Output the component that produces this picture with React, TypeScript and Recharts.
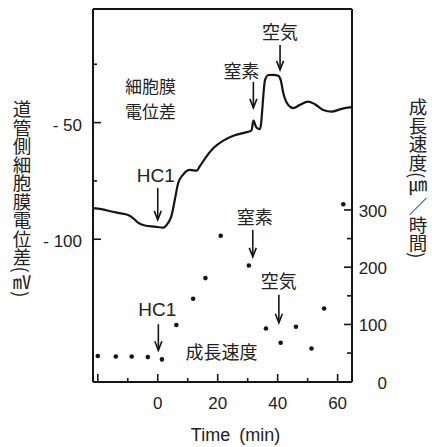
import React from 'react';
import { ComposedChart, Line, Scatter, XAxis, YAxis, ReferenceDot, ReferenceLine } from 'recharts';

// Membrane potential trace (time in min, potential in mV)
const potentialTime = [-21.6, -18.8, -15.5, -12.7, -9.9, -8.2, -6.6, -4.3, -1.0, 1.8, 3.4, 4.5, 5.7, 6.8, 8.4, 10.8, 13.0, 14.1, 15.8, 18.5, 21.9, 25.2, 29.1, 31.3, 31.9, 32.9, 34.1, 35.8, 36.9, 38.5, 40.2, 41.0, 41.9, 43.5, 45.2, 47.4, 50.2, 52.4, 55.2, 58.0, 61.3, 64.8];
const potentialMv = [-86.7, -87.1, -88.1, -88.8, -89.6, -91.0, -92.9, -94.1, -94.6, -95.0, -93.1, -90.3, -83.1, -76.0, -72.4, -70.3, -70.6, -68.6, -65.3, -61.0, -57.7, -55.6, -54.3, -53.3, -49.1, -52.1, -52.8, -31.7, -29.6, -29.5, -29.9, -31.7, -37.4, -42.4, -43.8, -42.4, -41.0, -42.1, -44.6, -45.3, -44.1, -43.4];

// Growth rate points (time in min, rate in µm/h)
const growthTime = [-20, -14, -8.7, -3.3, 1.4, 6.2, 11.8, 15.9, 21, 30.4, 36.1, 41, 46.1, 51.3, 55.5, 61.9];
const growthRate = [45, 44, 44, 43, 39, 99, 145, 181, 255, 203, 93, 68, 96, 58, 128, 310];

// Axis ticks
const xTicks = [-20, -10, 0, 10, 20, 30, 40, 50, 60];
const xTickLabels = [0, 20, 40, 60];
const leftTicks = [-100, -75, -50, -25];
const leftTickLabels = [-50, -100];
const rightTicks = [0, 50, 100, 150, 200, 250, 300];
const rightTickLabels = [0, 100, 200, 300];

// Annotations
const upperEventLabels = ['HC1', '窒素', '空気'];
const upperEventTime = [0, 31.9, 40.8];
const upperEventMv = [-91.7, -43.7, -27.4];
const lowerEventLabels = ['HC1', '窒素', '空気'];
const lowerEventTime = [0.2, 31.7, 40.4];
const lowerEventRate = [55, 218, 103];
const potentialCaption = ['細胞膜', '電位差'];
const potentialCaptionAt = { t: -2.4, mv: -39.4 };
const growthCaption = '成長速度';
const growthCaptionAt = { t: 21.3, rate: 52.8 };

// Layout (pixel offsets of annotation text relative to arrow tip)
const upperLayout = [
  { len: 32, textDy: -44, textDx: -2 },
  { len: 26, textDy: -38, textDx: -12 },
  { len: 25, textDy: -39, textDx: 0 },
];
const lowerLayout = [
  { len: 26, textDy: -41, textDx: -1 },
  { len: 27, textDy: -41, textDx: 2 },
  { len: 28, textDy: -43, textDx: 0 },
];

const INK = '#151515';
const LATIN = '"Liberation Sans", Arial, sans-serif';
const CJK = '"Noto Sans CJK JP", "Noto Sans CJK SC", sans-serif';

const lineData = potentialTime.map((t, i) => ({ t, mv: potentialMv[i] }));
const growthData = growthTime.map((t, i) => ({ t, rate: growthRate[i] }));

const isLatin = (s: string) => /^[A-Za-z0-9 ]+$/.test(s);

const Arrow = (props: any) => {
  const { cx, cy, label, len, textDy, textDx } = props;
  if (cx == null || cy == null) return null;
  return (
    <g>
      <line x1={cx} x2={cx} y1={cy - len} y2={cy} stroke={INK} strokeWidth={1.6} />
      <polyline points={`${cx - 3.5},${cy - 9} ${cx},${cy} ${cx + 3.5},${cy - 9}`} fill="none" stroke={INK} strokeWidth={1.6} />
      <text
        x={cx + textDx}
        y={cy + textDy}
        textAnchor="middle"
        dominantBaseline="central"
        fontFamily={isLatin(label) ? LATIN : CJK}
        fontSize={isLatin(label) ? 19 : 18}
        fill="#222"
      >
        {label}
      </text>
    </g>
  );
};

const Caption = (props: any) => {
  const { cx, cy, lines, size = 18, gap = 24 } = props;
  if (cx == null || cy == null) return null;
  const start = cy - ((lines.length - 1) * gap) / 2;
  return (
    <g>
      {lines.map((l: string, i: number) => (
        <text key={i} x={cx} y={start + i * gap} textAnchor="middle" dominantBaseline="central" fontFamily={CJK} fontSize={size} fill="#222">
          {l}
        </text>
      ))}
    </g>
  );
};

const BottomTick = (p: any) => {
  const v = p.payload.value;
  const major = v % 20 === 0;
  return (
    <g>
      <line x1={p.x} x2={p.x} y1={p.y} y2={p.y - (major ? 8 : 4)} stroke={INK} strokeWidth={1.6} />
      {xTickLabels.includes(v) && (
        <text x={p.x} y={p.y + 27} textAnchor="middle" fontFamily={LATIN} fontSize={17} fill="#222">
          {v}
        </text>
      )}
    </g>
  );
};

const LeftTick = (p: any) => {
  const v = p.payload.value;
  const major = leftTickLabels.includes(v);
  return (
    <g>
      <line x1={p.x} x2={p.x + (major ? 8 : 4)} y1={p.y} y2={p.y} stroke={INK} strokeWidth={1.6} />
      {major && (
        <text x={p.x - 11} y={p.y + 8} textAnchor="end" fontFamily={LATIN} fontSize={17} fill="#222">
          {'- ' + Math.abs(v)}
        </text>
      )}
    </g>
  );
};

const RightTick = (p: any) => {
  const v = p.payload.value;
  const major = rightTickLabels.includes(v);
  return (
    <g>
      {v !== 0 && <line x1={p.x} x2={p.x - (major ? 8 : 5)} y1={p.y} y2={p.y} stroke={INK} strokeWidth={1.6} />}
      {major && (
        <text x={p.x + 35} y={p.y + 7} textAnchor="end" fontFamily={LATIN} fontSize={17} fill="#222">
          {v}
        </text>
      )}
    </g>
  );
};

const XTitle = (p: any) => {
  const vb = p.viewBox || { x: 0, y: 0, width: 0, height: 0 };
  return (
    <text x={vb.x + vb.width / 2 + 13} y={vb.y + vb.height - 6} textAnchor="middle" fontFamily={LATIN} fontSize={18} wordSpacing={4} fill="#222">
      Time (min)
    </text>
  );
};

const LeftTitle = (p: any) => {
  const vb = p.viewBox || { x: 0, y: 0 };
  return (
    <text x={vb.x + 22} y={vb.y + 91} fontFamily={CJK} fontSize={18.5} fill="#222" style={{ writingMode: 'vertical-rl' as any }}>
      道管側細胞膜電位差(㎷)
    </text>
  );
};

const RightTitle = (p: any) => {
  const vb = p.viewBox || { x: 0, y: 0 };
  return (
    <text x={vb.x + 66} y={vb.y + 89} fontFamily={CJK} fontSize={18.5} fill="#222" style={{ writingMode: 'vertical-rl' as any }}>
      成長速度(㎛／時間)
    </text>
  );
};

export default function App() {
  return (
    <div style={{ position: 'absolute', left: 0, top: 0, width: 432, height: 447, background: '#fff' }}>
      <ComposedChart width={432} height={447} margin={{ top: 9, right: 0, bottom: 0, left: 0 }}>
        <XAxis
          dataKey="t"
          type="number"
          domain={[-21.6, 64.8]}
          allowDataOverflow
          ticks={xTicks}
          interval={0}
          height={65}
          tickSize={0}
          tickMargin={0}
          tickLine={false}
          tick={BottomTick}
          axisLine={{ stroke: INK, strokeWidth: 2 }}
          label={{ content: XTitle }}
        />
        <YAxis
          yAxisId="left"
          type="number"
          domain={[-161.2, -1.3]}
          allowDataOverflow
          ticks={leftTicks}
          interval={0}
          width={93}
          tickSize={0}
          tickMargin={0}
          tickLine={false}
          tick={LeftTick}
          axisLine={{ stroke: INK, strokeWidth: 2 }}
          label={{ content: LeftTitle }}
        />
        <YAxis
          yAxisId="right"
          orientation="right"
          type="number"
          domain={[-0.5, 651]}
          allowDataOverflow
          ticks={rightTicks}
          interval={0}
          width={80}
          tickSize={0}
          tickMargin={0}
          tickLine={false}
          tick={RightTick}
          axisLine={{ stroke: INK, strokeWidth: 2 }}
          label={{ content: RightTitle }}
        />
        <ReferenceLine yAxisId="left" y={-1.3} stroke={INK} strokeWidth={2} />
        <Line
          yAxisId="left"
          data={lineData}
          dataKey="mv"
          type="monotone"
          stroke={INK}
          strokeWidth={2.2}
          dot={false}
          isAnimationActive={false}
        />
        <Scatter
          yAxisId="right"
          data={growthData}
          dataKey="rate"
          fill={INK}
          shape={(p: any) => <circle cx={p.cx} cy={p.cy} r={2.3} fill={INK} />}
          isAnimationActive={false}
        />
        {upperEventLabels.map((l, i) => (
          <ReferenceDot
            key={'u' + i}
            yAxisId="left"
            x={upperEventTime[i]}
            y={upperEventMv[i]}
            shape={(p: any) => <Arrow {...p} label={l} {...upperLayout[i]} />}
          />
        ))}
        {lowerEventLabels.map((l, i) => (
          <ReferenceDot
            key={'l' + i}
            yAxisId="right"
            x={lowerEventTime[i]}
            y={lowerEventRate[i]}
            shape={(p: any) => <Arrow {...p} label={l} {...lowerLayout[i]} />}
          />
        ))}
        <ReferenceDot
          yAxisId="left"
          x={potentialCaptionAt.t}
          y={potentialCaptionAt.mv}
          shape={(p: any) => <Caption {...p} lines={potentialCaption} size={17} gap={24.5} />}
        />
        <ReferenceDot
          yAxisId="right"
          x={growthCaptionAt.t}
          y={growthCaptionAt.rate}
          shape={(p: any) => <Caption {...p} lines={[growthCaption]} size={18} />}
        />
      </ComposedChart>
    </div>
  );
}
